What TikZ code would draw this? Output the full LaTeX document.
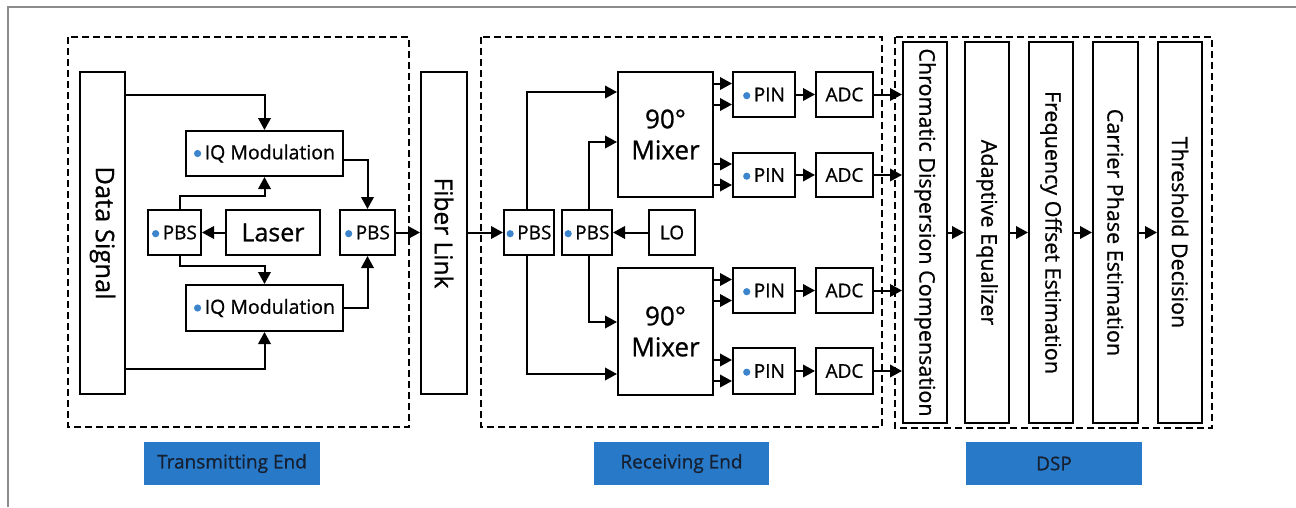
\documentclass[tikz,border=0pt]{standalone}
\usepackage{fontspec}
\setmainfont{Open Sans}[FakeBold=0.8]
\usepackage{graphicx}
\usetikzlibrary{arrows.meta,calc}
\definecolor{lblblue}{RGB}{40,121,200}
\definecolor{dotc}{RGB}{60,132,204}
\definecolor{lbltext}{RGB}{22,32,48}
\definecolor{framegray}{RGB}{140,140,140}
\newcommand\bdot{\tikz[baseline=-0.55ex]\fill[dotc] (0,0) circle (3.6pt);\kern3.5pt}
\begin{document}
\begin{tikzpicture}[x=1pt,y=-1pt,
  box/.style={draw, line width=2pt, inner sep=0pt, align=center, text=black,
    font=\fontsize{19}{22}\selectfont},
  arr/.style={line width=2pt, -{Triangle[length=12pt,width=12.5pt]}},
  dbox/.style={line width=1.7pt, dash pattern=on 7pt off 4pt},
  dspbox/.style={box, minimum height=381, font=\fontsize{21.5}{25}\selectfont},
  lbl/.style={fill=lblblue, inner sep=0pt, text=lbltext, font=\fontsize{19}{22}\selectfont,
    minimum height=43}]
\useasboundingbox (0,0) rectangle (1296,507);
\fill[white] (0,0) rectangle (1296,507);
\draw[framegray, line width=1.6pt] (8,507) -- (8,7) -- (1296,7);

% dashed groups
\draw[dbox] (68,37) rectangle (409,427);
\draw[dbox] (481,37) rectangle (882,427);
\draw[dbox] (895,37) rectangle (1212,428);

% transmitting end
\node[box,minimum width=45,minimum height=322] (ds) at (102.5,233)
  {\rotatebox{-90}{\fontsize{25.5}{30}\selectfont Data Signal}};
\node[box,minimum width=157,minimum height=45,font=\fontsize{19.5}{23}\selectfont] (iq1) at (264.5,153.5) {\bdot IQ Modulation};
\node[box,minimum width=157,minimum height=46,font=\fontsize{19.5}{23}\selectfont] (iq2) at (264.5,308) {\bdot IQ Modulation};
\node[box,minimum width=53,minimum height=45] (pbsL) at (174.5,232.5) {\bdot PBS};
\node[box,minimum width=94,minimum height=45,font=\fontsize{25}{30}\selectfont] (laser) at (273,232.5) {Laser};
\node[box,minimum width=55,minimum height=45] (pbsR) at (367.5,232.5) {\bdot PBS};

% fiber
\node[box,minimum width=46,minimum height=322] (fiber) at (444,233)
  {\rotatebox{-90}{\fontsize{24.5}{29}\selectfont Fiber Link}};

% receiving end
\node[box,minimum width=50,minimum height=45] (pbs1) at (529,232.5) {\bdot PBS};
\node[box,minimum width=50,minimum height=45] (pbs2) at (587,232.5) {\bdot PBS};
\node[box,minimum width=46,minimum height=45] (lo) at (672,232.5) {LO};
\node[box,minimum width=95,minimum height=125,font=\fontsize{26}{31}\selectfont] (mix1) at (665.5,134.5) {90°\\Mixer};
\node[box,minimum width=95,minimum height=127,font=\fontsize{26}{31}\selectfont] (mix2) at (665.5,331.5) {90°\\Mixer};
\node[box,minimum width=62,minimum height=45] (pin1) at (764,94.5) {\bdot PIN};
\node[box,minimum width=62,minimum height=44] (pin2) at (764,175) {\bdot PIN};
\node[box,minimum width=62,minimum height=45] (pin3) at (764,290.5) {\bdot PIN};
\node[box,minimum width=62,minimum height=46] (pin4) at (764,371) {\bdot PIN};
\node[box,minimum width=57,minimum height=45] (adc1) at (844.5,94.5) {ADC};
\node[box,minimum width=57,minimum height=44] (adc2) at (844.5,175) {ADC};
\node[box,minimum width=57,minimum height=45] (adc3) at (844.5,290.5) {ADC};
\node[box,minimum width=57,minimum height=46] (adc4) at (844.5,371) {ADC};

% DSP
\node[dspbox,minimum width=44] (cdc) at (925,232.5)
  {\rotatebox{-90}{Chromatic Dispersion Compensation}};
\node[dspbox,minimum width=44] (ae) at (987,232.5)
  {\rotatebox{-90}{Adaptive Equalizer}};
\node[dspbox,minimum width=44] (foe) at (1051,232.5)
  {\rotatebox{-90}{Frequency Offset Estimation}};
\node[dspbox,minimum width=45] (cpe) at (1115.5,232.5)
  {\rotatebox{-90}{Carrier Phase Estimation}};
\node[dspbox,minimum width=44] (td) at (1180,232.5)
  {\rotatebox{-90}{Threshold Decision}};

% labels
\node[lbl,minimum width=176] (ltx) at (232,463.5) {Transmitting End};
\node[lbl,minimum width=175] (lrx) at (681.5,463.5) {Receiving End};
\node[lbl,minimum width=176] (ldsp) at (1054,463.5) {DSP};

% transmitter connectors
\draw[arr] ($(ds.north east)+(0,24)$) -| (iq1.north);
\draw[arr] ($(ds.south east)+(0,-26)$) -| (iq2.south);
\draw[arr] (laser.west) -- (pbsL.east);
\draw[arr] ([xshift=5pt]pbsL.north) -- ++(0,-13) -| (iq1.south);
\draw[arr] ([xshift=5pt]pbsL.south) -- ++(0,10) -| (iq2.north);
\draw[arr] ([yshift=-6pt]iq1.east) -| (pbsR.north);
\draw[arr] (iq2.east) -| (pbsR.south);
\draw[arr] (pbsR.east) -- (pbsR.east -| fiber.west);

% receiver connectors
\draw[arr] (fiber.east |- pbs1.west) -- (pbs1.west);
\draw[arr] (lo.west) -- (pbs2.east);
\draw[arr] ([xshift=-2pt]pbs1.north) |- ($(mix1.north west)+(0,21)$);
\draw[arr] ([xshift=2pt]pbs2.north) |- ($(mix1.north west)+(0,71)$);
\draw[arr] ([xshift=2pt]pbs2.south) |- ($(mix2.north west)+(0,55)$);
\draw[arr] ([xshift=-2pt]pbs1.south) |- ($(mix2.south west)+(0,-22)$);
\foreach \i/\m in {1/mix1,2/mix1,3/mix2,4/mix2}{
  \draw[arr] ($(\m.east |- pin\i.west)+(0,-11)$) -- ([yshift=11pt]pin\i.west);
  \draw[arr] ($(\m.east |- pin\i.west)+(0,10)$) -- ([yshift=-10pt]pin\i.west);
  \draw[arr] (pin\i.east) -- (adc\i.west);
  \draw[arr] (adc\i.east) -- (adc\i.east -| cdc.west);
}

% DSP chain
\draw[arr] (cdc.east) -- (ae.west);
\draw[arr] (ae.east) -- (foe.west);
\draw[arr] (foe.east) -- (cpe.west);
\draw[arr] (cpe.east) -- (td.west);
\end{tikzpicture}
\end{document}
